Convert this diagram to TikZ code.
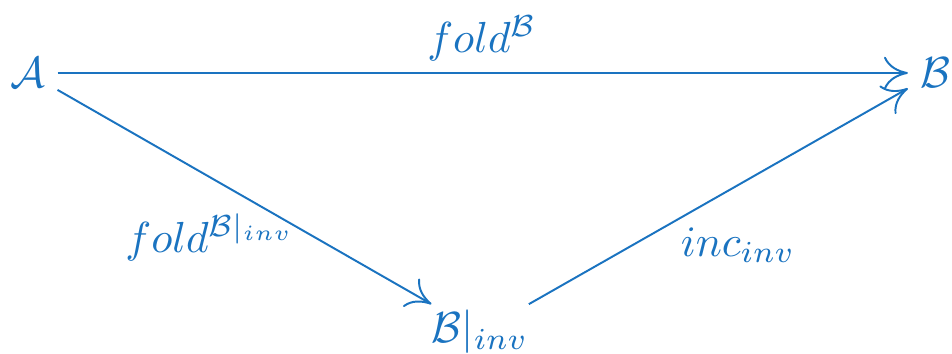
\documentclass[tikz,border=0pt]{standalone}
\usepackage{amsmath}
\usepackage{tikz}
\usetikzlibrary{arrows.meta,positioning}
\definecolor{diagblue}{HTML}{1A73C0}

\begin{document}
\begin{tikzpicture}[x=0.23pt,y=-0.23pt,color=diagblue,text=diagblue,
  map/.style={-{Computer Modern Rightarrow[length=5.5pt,width=7.5pt]},line width=0.45pt}]
\useasboundingbox (0,0) rectangle (952,354);
\node[inner sep=2.6pt] (A) at (28,73) {$\mathcal{A}$};
\node[inner sep=2.6pt] (B) at (935,73) {$\mathcal{B}$};
\node[inner sep=1.2pt] (Binv) at (480,332) {$\mathcal{B}|_{inv}$};
\draw[map] (A)--(B);
\draw[map] (A)--(Binv);
\draw[map] (Binv)--(B);
\node (lfold) at (482,38) {$fold^{\mathcal{B}}$};
\node (lfoldinv) at (210,237) {$fold^{\mathcal{B}|_{inv}}$};
\node (linc) at (738,245) {$inc_{inv}$};
\end{tikzpicture}
\end{document}
